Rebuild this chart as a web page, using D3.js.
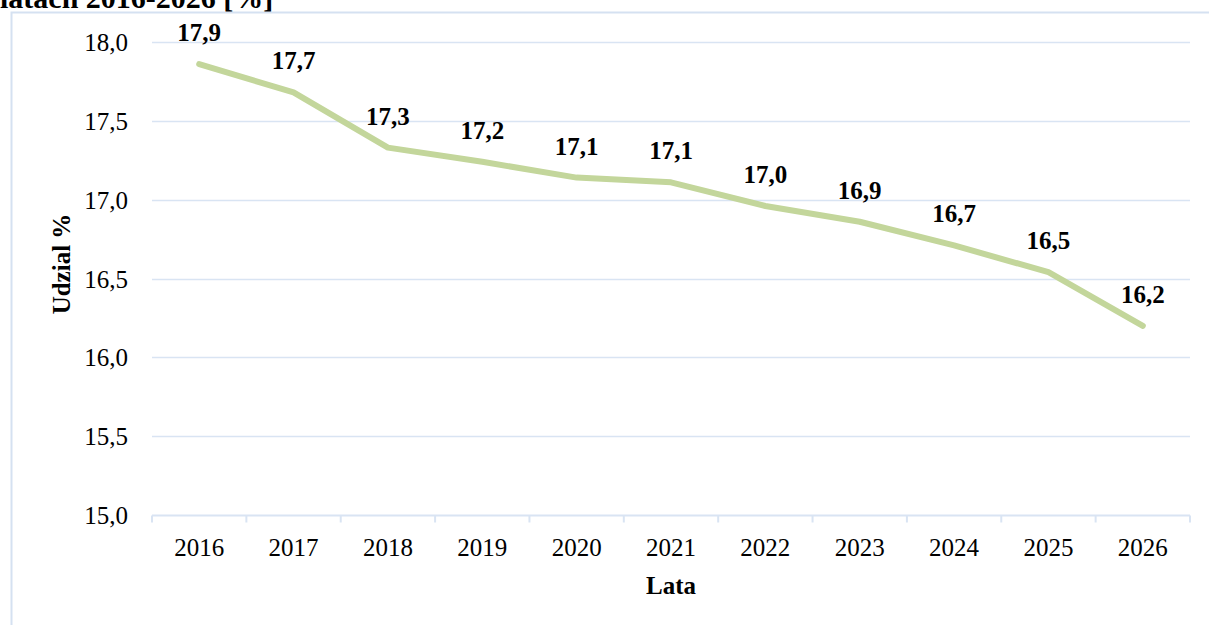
<!DOCTYPE html>
<html>
<head>
<meta charset="utf-8">
<script src="https://cdn.jsdelivr.net/npm/d3@7"></script>
<style>
  body { margin: 0; background: #fff; }
  text { font-family: "Liberation Serif", "Times New Roman", serif; }
</style>
</head>
<body>
<div id="chart"></div>
<script>
var width = 1209;
var height = 625;

var years = ["2016", "2017", "2018", "2019", "2020", "2021", "2022", "2023", "2024", "2025", "2026"];
var share = [17.86, 17.68, 17.33, 17.24, 17.14, 17.11, 16.96, 16.86, 16.71, 16.54, 16.20];
var shareLabels = ["17,9", "17,7", "17,3", "17,2", "17,1", "17,1", "17,0", "16,9", "16,7", "16,5", "16,2"];
var yTicks = [15.0, 15.5, 16.0, 16.5, 17.0, 17.5, 18.0];

var margin = { left: 152, right: 1190, top: 42, bottom: 515 };
var fontSize = "25px";

var svg = d3.select("#chart")
    .append("svg")
      .attr("width", width)
      .attr("height", height);

// frame of the chart area (cut off at right and bottom)
svg.append("rect")
    .attr("x", 11.5)
    .attr("y", 12.5)
    .attr("width", 1300)
    .attr("height", 700)
    .attr("fill", "none")
    .attr("stroke", "#d5e1f1")
    .attr("stroke-width", 2);

// title, cut off at top
svg.append("text")
    .attr("x", 0)
    .attr("y", 8)
    .attr("font-size", "30px")
    .attr("font-weight", "bold")
    .text("latach 2016-2026 [%]");

var x = d3.scaleBand()
    .domain(years)
    .range([margin.left, margin.right]);

var y = d3.scaleLinear()
    .domain([15, 18])
    .range([margin.bottom, margin.top]);

// gridlines
svg.append("g")
    .selectAll("line")
    .data(yTicks.slice(1))
    .enter().append("line")
    .attr("x1", margin.left)
    .attr("x2", margin.right)
    .attr("y1", function(d) { return Math.round(y(d)) + 0.5; })
    .attr("y2", function(d) { return Math.round(y(d)) + 0.5; })
    .attr("stroke", "#d9e4f3")
    .attr("stroke-width", 1.5);

// y tick labels
svg.append("g")
    .selectAll("text")
    .data(yTicks)
    .enter().append("text")
    .attr("x", 128)
    .attr("y", function(d) { return y(d) + 9; })
    .attr("text-anchor", "end")
    .attr("font-size", fontSize)
    .text(function(d) { return d3.format(".1f")(d).replace(".", ","); });

// x axis
var xAxis = svg.append("g")
    .attr("transform", "translate(0," + (margin.bottom + 0.5) + ")");

xAxis.append("line")
    .attr("x1", margin.left)
    .attr("x2", margin.right)
    .attr("stroke", "#d9e4f3")
    .attr("stroke-width", 2);

var tickPos = years.map(function(d) { return x(d); }).concat([margin.right]);
xAxis.selectAll("line.tick")
    .data(tickPos)
    .enter().append("line")
    .attr("class", "tick")
    .attr("x1", function(d) { return d; })
    .attr("x2", function(d) { return d; })
    .attr("y1", 0)
    .attr("y2", 7)
    .attr("stroke", "#d9e4f3")
    .attr("stroke-width", 2);

xAxis.selectAll("text")
    .data(years)
    .enter().append("text")
    .attr("x", function(d) { return x(d) + x.bandwidth() / 2; })
    .attr("y", 40)
    .attr("text-anchor", "middle")
    .attr("font-size", fontSize)
    .text(function(d) { return d; });

// axis titles
svg.append("text")
    .attr("x", x("2021") + x.bandwidth() / 2)
    .attr("y", 594)
    .attr("text-anchor", "middle")
    .attr("font-size", fontSize)
    .attr("font-weight", "bold")
    .text("Lata");

svg.append("text")
    .attr("transform", "translate(70,264) rotate(-90)")
    .attr("text-anchor", "middle")
    .attr("font-size", fontSize)
    .attr("font-weight", "bold")
    .text("Udzial %");

// line
var line = d3.line()
    .x(function(d, i) { return x(years[i]) + x.bandwidth() / 2; })
    .y(function(d) { return y(d); });

svg.append("path")
    .datum(share)
    .attr("d", line)
    .attr("fill", "none")
    .attr("stroke", "#c3d69b")
    .attr("stroke-width", 6)
    .attr("stroke-linecap", "round")
    .attr("stroke-linejoin", "round");

// data labels
svg.append("g")
    .selectAll("text")
    .data(share)
    .enter().append("text")
    .attr("x", function(d, i) { return x(years[i]) + x.bandwidth() / 2; })
    .attr("y", function(d) { return y(d) - 23; })
    .attr("text-anchor", "middle")
    .attr("font-size", fontSize)
    .attr("font-weight", "bold")
    .text(function(d, i) { return shareLabels[i]; });
</script>
</body>
</html>
